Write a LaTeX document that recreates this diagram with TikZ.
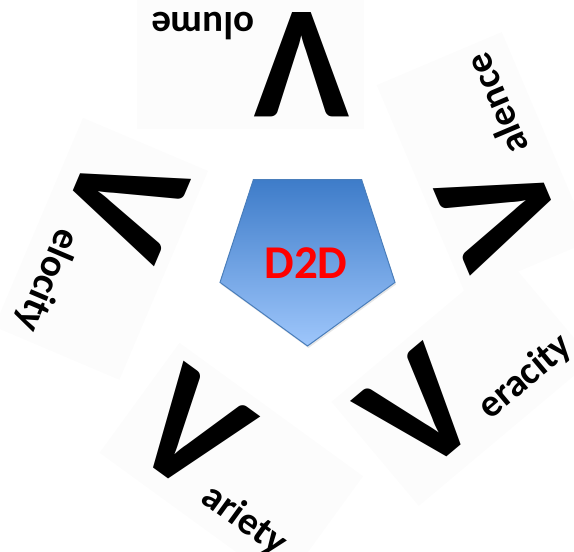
\documentclass[tikz,border=0pt]{standalone}
\usepackage{fontspec}
\setmainfont{Carlito}
\usetikzlibrary{backgrounds,shadows}
\definecolor{pentTop}{RGB}{62,124,201}
\definecolor{pentBot}{RGB}{158,198,251}
\definecolor{pentLine}{RGB}{74,126,187}
\definecolor{boxFill}{RGB}{252,252,252}
\begin{document}
\begin{tikzpicture}[x=1pt,y=1pt,
  bigv/.style={inner sep=0pt, outer sep=0pt, font=\fontsize{161}{161}\selectfont\bfseries},
  vword/.style={inner sep=0pt, outer sep=0pt, anchor=base west, font=\fontsize{39}{39}\selectfont\bfseries},
  vbox/.style={fill=boxFill},
  pent/.style={draw=pentLine, line width=1pt, top color=pentTop, bottom color=pentBot,
    drop shadow={opacity=0.2, shadow xshift=1pt, shadow yshift=-2pt}},
  d2d/.style={text=red, font=\fontsize{47}{47}\selectfont\bfseries, inner sep=0pt}]
\useasboundingbox (0,0) rectangle (574,552);
\path[pent] (307.5,206) -- (395,269.6) -- (361.6,372.4) -- (253.4,372.4) -- (220,269.6) -- cycle;
\node[d2d] (d2d) at (306,289) {D2D};
\node[bigv, rotate=180] (v1) at (302,487) {V};
\node[vword, rotate=180] (w1) at (v1.base east) {olume};
\node[bigv, rotate=113] (v2) at (500,340) {V};
\node[vword, rotate=113] (w2) at (v2.base east) {alence};
\node[bigv, rotate=40] (v3) at (420,141) {V};
\node[vword, rotate=40] (w3) at (v3.base east) {eracity};
\node[bigv, rotate=-36] (v4) at (192,121) {V};
\node[vword, rotate=-36] (w4) at (v4.base east) {ariety};
\node[bigv, rotate=-113] (v5) at (125,349) {V};
\node[vword, rotate=-113] (w5) at (v5.base east) {elocity};
\begin{scope}[on background layer]
  \foreach \n/\a in {v1/180, v2/113, v3/40, v4/-36, v5/-113} {
    \fill[vbox, shift={(\n.center)}, rotate=\a] (-62,-72) rectangle (165,64);
  }
\end{scope}
\end{tikzpicture}
\end{document}
